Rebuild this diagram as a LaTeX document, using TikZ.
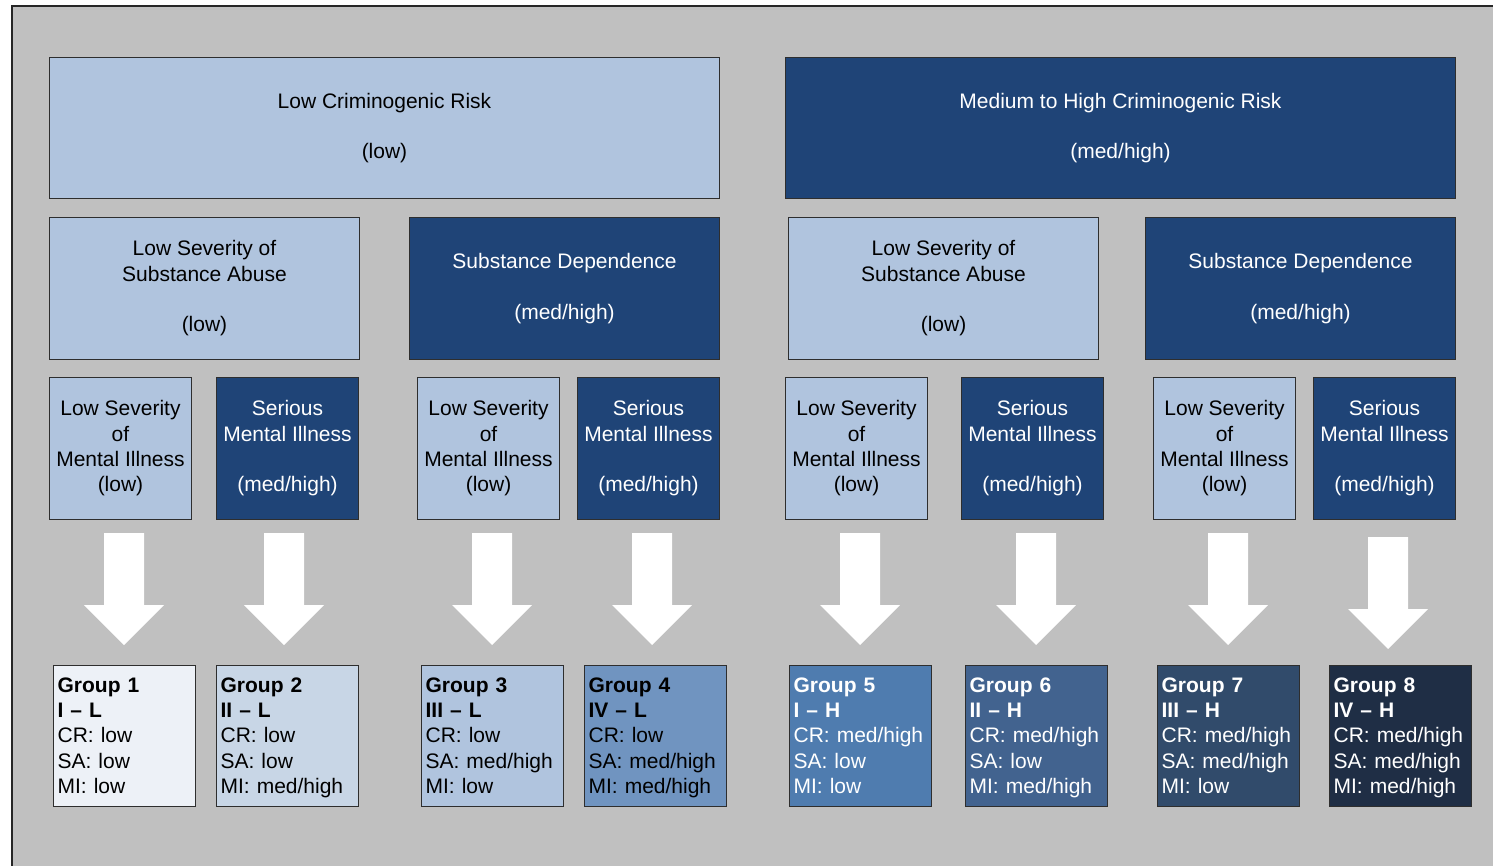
\documentclass[tikz,border=0pt]{standalone}
\usepackage{fontspec}
\setmainfont{Liberation Sans}
\definecolor{bggray}{HTML}{C0C0C0}
\definecolor{lightbox}{HTML}{B0C4DE}
\definecolor{darkbox}{HTML}{1F4477}
\definecolor{edge}{HTML}{2E2E2E}
\definecolor{gone}{HTML}{EDF1F7}
\definecolor{gtwo}{HTML}{C8D6E6}
\definecolor{gthree}{HTML}{B0C4DE}
\definecolor{gfour}{HTML}{7094C0}
\definecolor{gfive}{HTML}{4F7CAF}
\definecolor{gsix}{HTML}{42638F}
\definecolor{gseven}{HTML}{314B6B}
\definecolor{geight}{HTML}{1F2E45}
\newcommand{\topstrut}{\rule{0pt}{19pt}}
\newcommand{\botstrut}{\rule[-5.8pt]{0pt}{5.8pt}}
\tikzset{
  basebox/.style={draw=edge, line width=1pt, rectangle, anchor=north west, inner sep=0pt,
    font=\fontsize{21}{25.3}\selectfont, align=center},
  lowbox/.style={basebox, fill=lightbox, text=black},
  highbox/.style={basebox, fill=darkbox, text=white},
  groupbox/.style={draw=edge, line width=1.2pt, rectangle, anchor=north west, inner xsep=4pt, inner ysep=0pt,
    font=\fontsize{21}{25.3}\selectfont, align=left, minimum width=142pt, minimum height=141pt, text width=134pt},
  blockarrowfill/.style={fill=white}
}
\newcommand{\blockarr}[2]{%
  \fill[blockarrowfill] (#1-20,533+#2) -- (#1+20,533+#2) -- (#1+20,605+#2) -- (#1+40,605+#2)
    -- (#1,645+#2) -- (#1-40,605+#2) -- (#1-20,605+#2) -- cycle;}
\newcommand{\grouptext}[5]{\topstrut\textbf{#1}\\\textbf{#2}\\CR: #3\\SA: #4\\MI: #5\botstrut}
\begin{document}
\begin{tikzpicture}[x=1pt,y=-1pt]
\useasboundingbox (0,0) rectangle (1493,866);
\clip (0,0) rectangle (1493,866);
\fill[white] (0,0) rectangle (1493,866);
\draw[fill=bggray, draw=black!85, line width=2pt] (12,6) rectangle (1520,890);

% row 1
\node[lowbox, minimum width=670pt, minimum height=141pt] (crlow) at (49,57)
  {Low Criminogenic Risk\\[25.3pt](low)};
\node[highbox, minimum width=670pt, minimum height=141pt] (crhigh) at (785,57)
  {Medium to High Criminogenic Risk\\[25.3pt](med/high)};

% row 2
\node[lowbox, minimum width=310pt, minimum height=142pt] (salowA) at (49,217)
  {Low Severity of\\Substance Abuse\\[25.3pt](low)};
\node[highbox, minimum width=310pt, minimum height=142pt] (sahighA) at (409,217)
  {Substance Dependence\\[25.3pt](med/high)};
\node[lowbox, minimum width=310pt, minimum height=142pt] (salowB) at (788,217)
  {Low Severity of\\Substance Abuse\\[25.3pt](low)};
\node[highbox, minimum width=310pt, minimum height=142pt] (sahighB) at (1145,217)
  {Substance Dependence\\[25.3pt](med/high)};

% row 3
\foreach \xx/\nm in {49/mlA, 417/mlB, 785/mlC, 1153/mlD}{
  \node[lowbox, minimum width=142pt, minimum height=142pt] (\nm) at (\xx,377)
    {Low Severity\\of\\Mental Illness\\(low)};
}
\foreach \xx/\nm in {216/mhA, 577/mhB, 961/mhC, 1313/mhD}{
  \node[highbox, minimum width=142pt, minimum height=142pt] (\nm) at (\xx,377)
    {Serious\\Mental Illness\\[25.3pt](med/high)};
}

% arrows
\blockarr{124}{0}
\blockarr{284}{0}
\blockarr{492}{0}
\blockarr{652}{0}
\blockarr{860}{0}
\blockarr{1036}{0}
\blockarr{1228}{0}
\blockarr{1388}{4}

% groups
\node[groupbox, fill=gone, text=black] (g1) at (53,665)
  {\grouptext{Group 1}{I – L}{low}{low}{low}};
\node[groupbox, fill=gtwo, text=black] (g2) at (216,665)
  {\grouptext{Group 2}{II – L}{low}{low}{med/high}};
\node[groupbox, fill=gthree, text=black] (g3) at (421,665)
  {\grouptext{Group 3}{III – L}{low}{med/high}{low}};
\node[groupbox, fill=gfour, text=black] (g4) at (584,665)
  {\grouptext{Group 4}{IV – L}{low}{med/high}{med/high}};
\node[groupbox, fill=gfive, text=white] (g5) at (789,665)
  {\grouptext{Group 5}{I – H}{med/high}{low}{low}};
\node[groupbox, fill=gsix, text=white] (g6) at (965,665)
  {\grouptext{Group 6}{II – H}{med/high}{low}{med/high}};
\node[groupbox, fill=gseven, text=white] (g7) at (1157,665)
  {\grouptext{Group 7}{III – H}{med/high}{med/high}{low}};
\node[groupbox, fill=geight, text=white] (g8) at (1329,665)
  {\grouptext{Group 8}{IV – H}{med/high}{med/high}{med/high}};
\end{tikzpicture}
\end{document}
